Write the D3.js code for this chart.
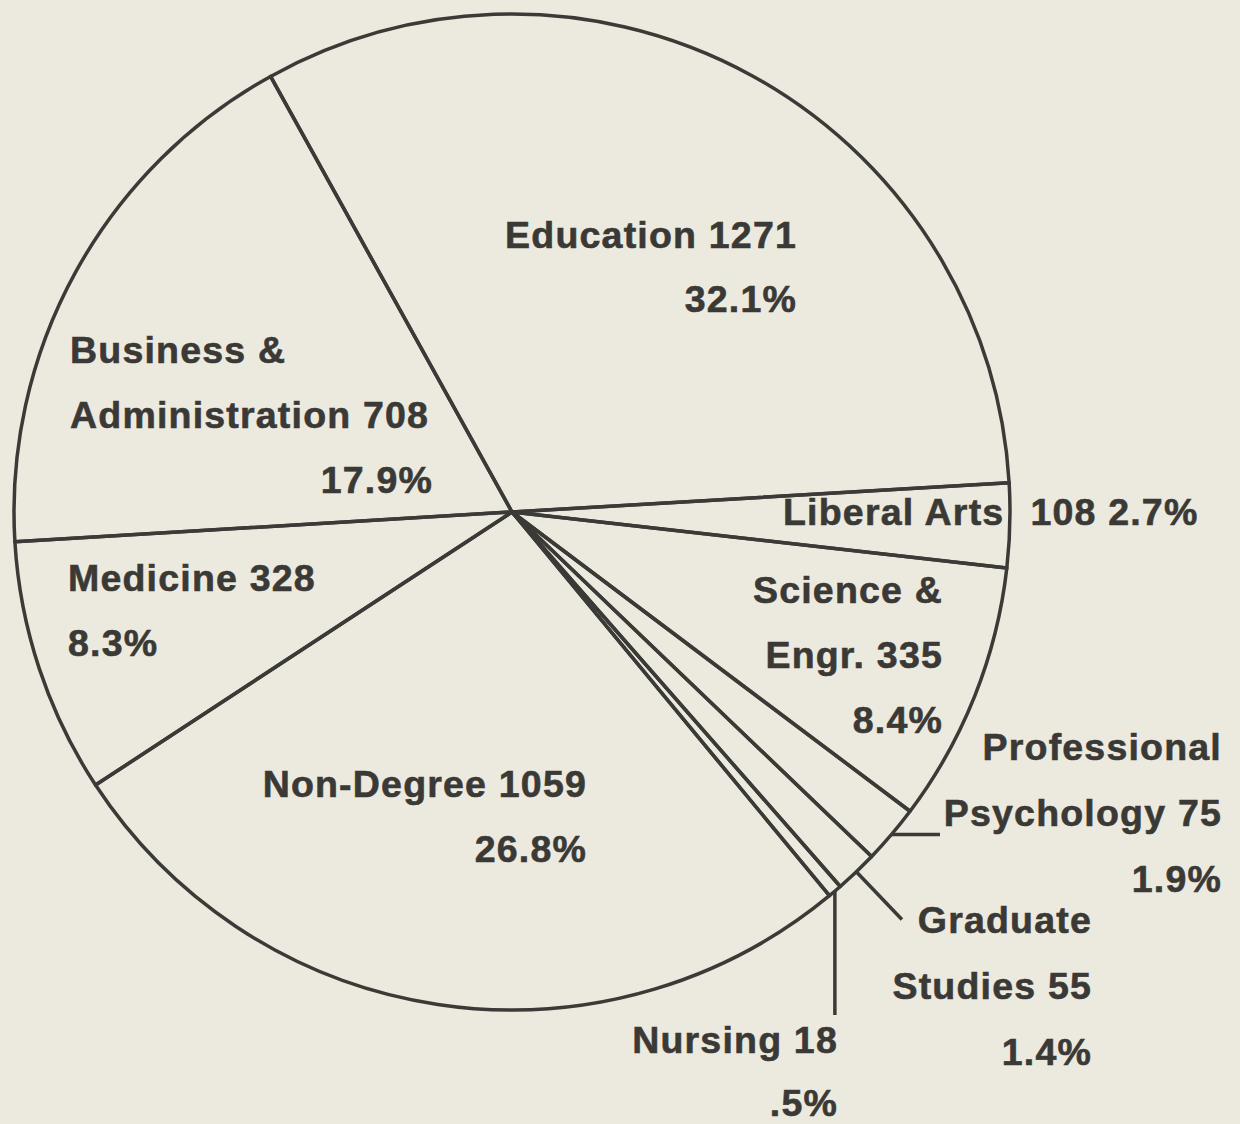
<!DOCTYPE html>
<html>
<head>
<meta charset="utf-8">
<script src="https://cdn.jsdelivr.net/npm/d3@7"></script>
<style>
  body { margin: 0; background: #ece9df; }
  .lbl { font-family: "Liberation Sans", Arial, Helvetica, sans-serif; font-weight: bold; font-size: 37.5px; letter-spacing: 1.2px; fill: #3a3935; stroke: #3a3935; stroke-width: 0.6px; }
</style>
</head>
<body>
<script>
// Enrollment by school (pie chart)

// Data
const categories = ["Education", "Liberal Arts", "Science & Engr.", "Professional Psychology",
    "Graduate Studies", "Nursing", "Non-Degree", "Medicine", "Business & Administration"];
const enrollments = [1271, 108, 335, 75, 55, 18, 1059, 328, 708];
const percentLabels = ["32.1%", "2.7%", "8.4%", "1.9%", "1.4%", ".5%", "26.8%", "8.3%", "17.9%"];

// SVG params
let svgWidth = 1240;
let svgHeight = 1124;
let cx = 512, cy = 512, radius = 498;
let lineColor = "#3b3a36";

// Label layout: anchor point, text-anchor, how many words on the first line (0 = none)
let labelLayout = {
    "Education":                 { x: 797, y: 248, anchor: "end",   split: 0, gap: 64 },
    "Liberal Arts":              { x: 783, y: 525, anchor: "start", inline: true },
    "Science & Engr.":           { x: 943, y: 603, anchor: "end",   split: 2, gap: 65 },
    "Professional Psychology":   { x: 1222, y: 760, anchor: "end",  split: 1, gap: 66 },
    "Graduate Studies":          { x: 1092, y: 933, anchor: "end",  split: 1, gap: 66 },
    "Nursing":                   { x: 838, y: 1053, anchor: "end",  split: 0, gap: 63 },
    "Non-Degree":                { x: 587, y: 797, anchor: "end",   split: 0, gap: 65 },
    "Medicine":                  { x: 68,  y: 591, anchor: "start", split: 0, gap: 65 },
    "Business & Administration": { x: 70,  y: 363, anchor: "start", split: 2, gap: 65, pctX: 433 }
};

let svg = d3.select("body")
    .append("svg")
    .attr("width", svgWidth)
    .attr("height", svgHeight);

svg.append("rect")
    .attr("width", svgWidth)
    .attr("height", svgHeight)
    .attr("fill", "#ece9df");

let chartGroup = svg.append("g")
    .attr("transform", `translate(${cx}, ${cy})`);

let pieData = categories.map((c, i) => ({ name: c, value: enrollments[i], pct: percentLabels[i] }));

let pie = d3.pie()
    .value(d => d.value)
    .sort(null)
    .startAngle(-29 * Math.PI / 180)
    .endAngle(331 * Math.PI / 180);

let arc = d3.arc()
    .innerRadius(0)
    .outerRadius(radius);

let arcs = pie(pieData);

// Slices
chartGroup.selectAll("path.slice")
    .data(arcs)
    .enter()
    .append("path")
    .attr("class", "slice")
    .attr("d", arc)
    .attr("fill", "none")
    .attr("stroke", lineColor)
    .attr("stroke-width", 3.5)
    .attr("stroke-linejoin", "round");

// Leader lines for the thin slices
function edgePoint(d, r) {
    let a = (d.startAngle + d.endAngle) / 2;
    return [r * Math.sin(a), -r * Math.cos(a)];
}
let leaders = {
    "Professional Psychology": d => { let p = edgePoint(d, radius); return [p, [428, p[1]]]; },
    "Graduate Studies": d => [edgePoint(d, radius), edgePoint(d, radius + 66)],
    "Nursing": d => { let p = edgePoint(d, radius); return [p, [p[0], 503]]; }
};
arcs.filter(d => leaders[d.data.name]).forEach(d => {
    chartGroup.append("path")
        .attr("d", d3.line()(leaders[d.data.name](d)))
        .attr("stroke", lineColor)
        .attr("stroke-width", 3.5)
        .attr("fill", "none");
});

// Labels
arcs.forEach(d => {
    let lay = labelLayout[d.data.name];
    let t = svg.append("text")
        .attr("class", "lbl")
        .attr("x", lay.x)
        .attr("y", lay.y)
        .attr("text-anchor", lay.anchor);
    if (lay.inline) {
        t.append("tspan").text(d.data.name);
        t.append("tspan").attr("dx", 26).text(`${d.data.value} ${d.data.pct}`);
        return;
    }
    let words = d.data.name.split(" ");
    let lines = lay.split
        ? [words.slice(0, lay.split).join(" "), words.slice(lay.split).join(" ") + " " + d.data.value, d.data.pct]
        : [d.data.name + " " + d.data.value, d.data.pct];
    t.selectAll("tspan")
        .data(lines)
        .enter()
        .append("tspan")
        .attr("x", lay.x)
        .attr("dy", (l, i) => i === 0 ? 0 : lay.gap)
        .text(l => l);
    // a percentage set off on its own right edge
    if (lay.pctX) {
        t.select("tspan:last-child").remove();
        svg.append("text")
            .attr("class", "lbl")
            .attr("x", lay.pctX)
            .attr("y", lay.y + lay.gap * (lines.length - 1))
            .attr("text-anchor", "end")
            .text(d.data.pct);
    }
});
</script>
</body>
</html>
